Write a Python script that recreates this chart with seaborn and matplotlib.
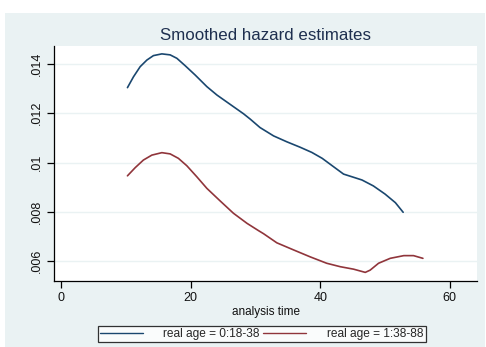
import matplotlib
matplotlib.use("Agg")
import matplotlib.pyplot as plt
import seaborn as sns
import pandas as pd
from matplotlib.patches import Rectangle
from matplotlib.lines import Line2D

# ---- data ----
young_time = [10.24, 11.17, 12.2, 13.24, 14.25, 15.55, 16.83, 17.87, 19.15, 20.7, 22.5,
              24.05, 26.1, 28.15, 29.2, 30.7, 32.8, 34.85, 36.9, 38.7, 40.3, 42.05,
              43.6, 45.15, 46.45, 48.2, 50.0, 51.6, 52.8]
young_hazard = [.01304, .01348, .01389, .01416, .01434, .01441, .01437, .01423, .01393,
                .01355, .01308, .01274, .01236, .01198, .01176, .01142, .01108, .01084,
                .01062, .01041, .01017, .00983, .00953, .00940, .00929, .00905, .00872,
                .00837, .00798]
old_time = [10.24, 11.43, 12.7, 14.0, 15.55, 16.83, 18.1, 19.4, 20.95, 22.5, 24.55,
            26.6, 28.7, 30.5, 31.25, 33.3, 35.9, 38.45, 41.0, 43.1, 45.15, 46.95,
            47.7, 49.0, 50.8, 52.9, 54.4, 55.85]
old_hazard = [.00946, .00979, .01010, .01030, .01040, .01035, .01017, .00987, .00942,
              .00895, .00844, .00794, .00753, .00723, .00711, .00674, .00645, .00617,
              .00591, .00577, .00567, .00554, .00563, .00591, .00611, .00622, .00622,
              .00611]
group_labels = ["real age = 0:18-38", "real age = 1:38-88"]
x_ticks = [0, 20, 40, 60]
y_ticks = [.006, .008, .010, .012, .014]
y_ticklabels = [".006", ".008", ".01", ".012", ".014"]
title = "Smoothed hazard estimates"
x_label = "analysis time"

df = pd.concat([
    pd.DataFrame({"time": young_time, "hazard": young_hazard, "group": group_labels[0]}),
    pd.DataFrame({"time": old_time, "hazard": old_hazard, "group": group_labels[1]}),
], ignore_index=True)

sns.set_theme(style="white")
plt.rcParams["font.family"] = ["Liberation Sans", "DejaVu Sans"]

W, H = 486, 347
fig = plt.figure(figsize=(W / 100, H / 100), dpi=100)
fig.patch.set_facecolor("white")
panel_col = "#eaf2f3"
fig.patches.append(Rectangle((5 / W, 0), (485 - 5) / W, (H - 13) / H,
                             transform=fig.transFigure, facecolor=panel_col,
                             edgecolor="none", zorder=-10))

ax = fig.add_axes([54 / W, 1 - 281 / H, (477 - 54) / W, (281 - 46) / H])
ax.set_zorder(1)
ax.set_facecolor("white")

palette = {group_labels[0]: "#1a476f", group_labels[1]: "#90353b"}
sns.lineplot(data=df, x="time", y="hazard", hue="group", palette=palette,
             sort=False, estimator=None, linewidth=1.2, ax=ax, legend=False)
for ln in ax.get_lines():
    ln.set_solid_joinstyle("round")
    ln.set_solid_capstyle("round")

ax.set_xlim(-1.1, 64.2)
ax.set_ylim(.00519, .01473)
ax.set_xticks(x_ticks)
ax.set_xticklabels([str(t) for t in x_ticks])
ax.set_yticks(y_ticks)
ax.set_yticklabels(y_ticklabels, rotation=90, va="center")
ax.grid(axis="y", color=panel_col, linewidth=1.0)
ax.grid(axis="x", visible=False)
ax.set_axisbelow(True)

for s in ["top", "right"]:
    ax.spines[s].set_visible(False)
for s in ["left", "bottom"]:
    ax.spines[s].set_visible(True)
    ax.spines[s].set_color("black")
    ax.spines[s].set_linewidth(0.9)
ax.tick_params(axis="both", which="major", direction="out", length=5, width=0.9,
               color="black", labelsize=9, labelcolor="#111111", pad=3,
               bottom=True, left=True)

ax.set_xlabel(x_label, fontsize=8.5, labelpad=1, color="#111111")
ax.set_ylabel("")
fig.text(265 / W, 1 - 35 / H, title, ha="center", va="center", fontsize=12.2,
         color="#1e2f4f")

handles = [Line2D([], [], color=palette[g], linewidth=1.0) for g in group_labels]
leg = fig.legend(handles, group_labels, loc="center", ncol=2,
                 bbox_to_anchor=(261.7 / W, 1 - 334 / H), fontsize=8.6,
                 frameon=True, fancybox=False, edgecolor="black",
                 handlelength=3.6, handletextpad=1.7, columnspacing=0.3,
                 borderpad=0.2, borderaxespad=0)
leg.get_frame().set_linewidth(0.9)
leg.get_frame().set_facecolor("white")

fig.savefig("out.png", dpi=100, facecolor=fig.get_facecolor())
